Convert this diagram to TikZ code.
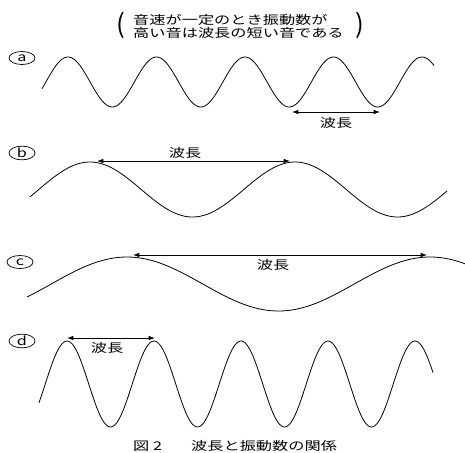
\documentclass[tikz,border=0pt]{standalone}
\usepackage{fontspec}
\newfontfamily\jp{Noto Sans CJK JP}
\usetikzlibrary{arrows.meta,shapes.geometric}
\newcommand\widen[1]{\scalebox{1.35}[1]{#1}}

\begin{document}
\begin{tikzpicture}[x=1pt,y=-1pt,>={Latex[length=2.2mm,width=1.6mm]},
  wave/.style={line width=0.8pt,smooth,samples=240},
  len/.style={<->,line width=0.9pt},
  tag/.style={draw,ellipse,line width=0.7pt,minimum width=26pt,minimum height=13pt,inner sep=0pt,font=\jp\fontsize{12}{12}\selectfont},
  jtxt/.style={inner sep=0pt,font=\jp\fontsize{12}{13}\selectfont}]
  \useasboundingbox (0,0) rectangle (465,452);
  % titulo
  \node[jtxt,align=left,anchor=west] (title) at (133,26.5)
    {\widen{音速が一定のとき振動数が}\\\widen{高い音は波長の短い音である}};
  \node[inner sep=0pt,font=\jp\fontsize{26}{26}\selectfont] (lp) at (121,25) {(};
  \node[inner sep=0pt,font=\jp\fontsize{26}{26}\selectfont] (rp) at (360,25) {)};
  % onda a
  \node[tag] (ta) at (22,58) {\widen{a}};
  \draw[wave] plot[domain=42:434] (\x,{82-25*cos(4.068*(\x-68))});
  \coordinate (a1) at (292,112);
  \coordinate (a2) at (380,112);
  \draw[len] (a1) -- (a2);
  \node[jtxt] (la) at (336,123) {\widen{波長}};
  % onda b
  \node[tag] (tb) at (22,153) {\widen{b}};
  \draw[wave] plot[domain=30:447] (\x,{189.5-27.5*cos(1.756*(\x-90))});
  \coordinate (b1) at (97,161);
  \coordinate (b2) at (290,161);
  \draw[len] (b1) -- (b2);
  \node[jtxt] (lb) at (185,153) {\widen{波長}};
  % onda c
  \node[tag] (tc) at (20,262) {\widen{c}};
  \draw[wave] plot[domain=27:465] (\x,{284-27*cos(1.188*(\x-127))});
  \coordinate (c1) at (133,255);
  \coordinate (c2) at (427,255);
  \draw[len] (c1) -- (c2);
  \node[jtxt] (lc) at (273,265) {\widen{波長}};
  % onda d
  \node[tag] (td) at (22,341) {\widen{d}};
  \draw[wave] plot[domain=39:433] (\x,{384-43*cos(4.138*(\x-67))});
  \coordinate (d1) at (67,338);
  \coordinate (d2) at (155,338);
  \draw[len] (d1) -- (d2);
  \node[jtxt] (ld) at (107,348) {\widen{波長}};
  % pie
  \node[jtxt,anchor=west] (cap) at (133,446) {\widen{図 2\hspace{1.8em}波長と振動数の関係}};
\end{tikzpicture}
\end{document}
